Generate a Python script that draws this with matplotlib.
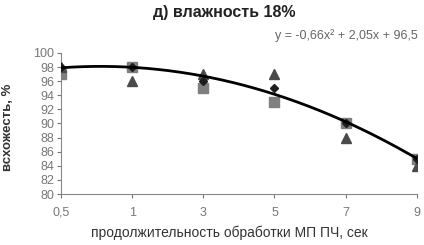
import numpy as np
import matplotlib
matplotlib.use("Agg")
import matplotlib.pyplot as plt

plt.rcParams["font.family"] = ["Liberation Sans", "DejaVu Sans"]

# Categories (duration of treatment, sec)
categories = ["0,5", "1", "3", "5", "7", "9"]

# Three repeats of germination, %
squares = [97, 98, 95, 93, 90, 85]
triangles = [98, 96, 97, 97, 88, 84]
diamonds = [98, 98, 96, 95, 90, 85]

# Trendline coefficients as shown: y = -0,66x^2 + 2,05x + 96,5 (x = category number)
trend_coef = [-0.66, 2.05, 96.5]

yticks = list(range(80, 101, 2))

fig = plt.figure(figsize=(4.24, 2.45), dpi=100)
ax = fig.add_axes([0.144, 0.208, 0.839, 0.576])

pos = np.arange(len(categories))
ax.plot(pos, squares, "s", color="#7f7f7f", markersize=6.5, linestyle="none", zorder=3)
ax.plot(pos, triangles, "^", color="#4a4a4a", markersize=6.5, linestyle="none", zorder=3)
ax.plot(pos, diamonds, "D", color="#1e1e1e", markersize=4.5, linestyle="none", zorder=4)

t = np.linspace(1, len(categories), 200)
ax.plot(t - 1, np.polyval(trend_coef, t), color="black", linewidth=2, zorder=5)

ax.set_xlim(0, len(categories) - 1)
ax.set_ylim(80, 100)
ax.set_xticks(pos)
ax.set_xticklabels(categories)
ax.set_yticks(yticks)
ax.tick_params(axis="both", colors="#777777", labelsize=9, length=3, width=0.8)
ax.tick_params(axis="x", pad=6)
ax.tick_params(axis="y", pad=2)
for side in ("top", "right"):
    ax.spines[side].set_visible(False)
for side in ("left", "bottom"):
    ax.spines[side].set_color("#888888")

fig.text(0.53, 0.95, "д) влажность 18%", ha="center", va="center",
         fontsize=11.5, fontweight="bold", color="#222222")
fig.text(0.985, 0.853, "y = -0,66x² + 2,05x + 96,5", ha="right", va="center",
         fontsize=9, color="#666666")
fig.text(0.02, 0.48, "всхожесть, %", rotation=90, ha="center", va="center",
         fontsize=9.5, fontweight="bold", color="#333333")
fig.text(0.54, 0.05, "продолжительность обработки МП ПЧ, сек", ha="center", va="center",
         fontsize=10, color="#333333")

fig.savefig("out.png", dpi=100)
